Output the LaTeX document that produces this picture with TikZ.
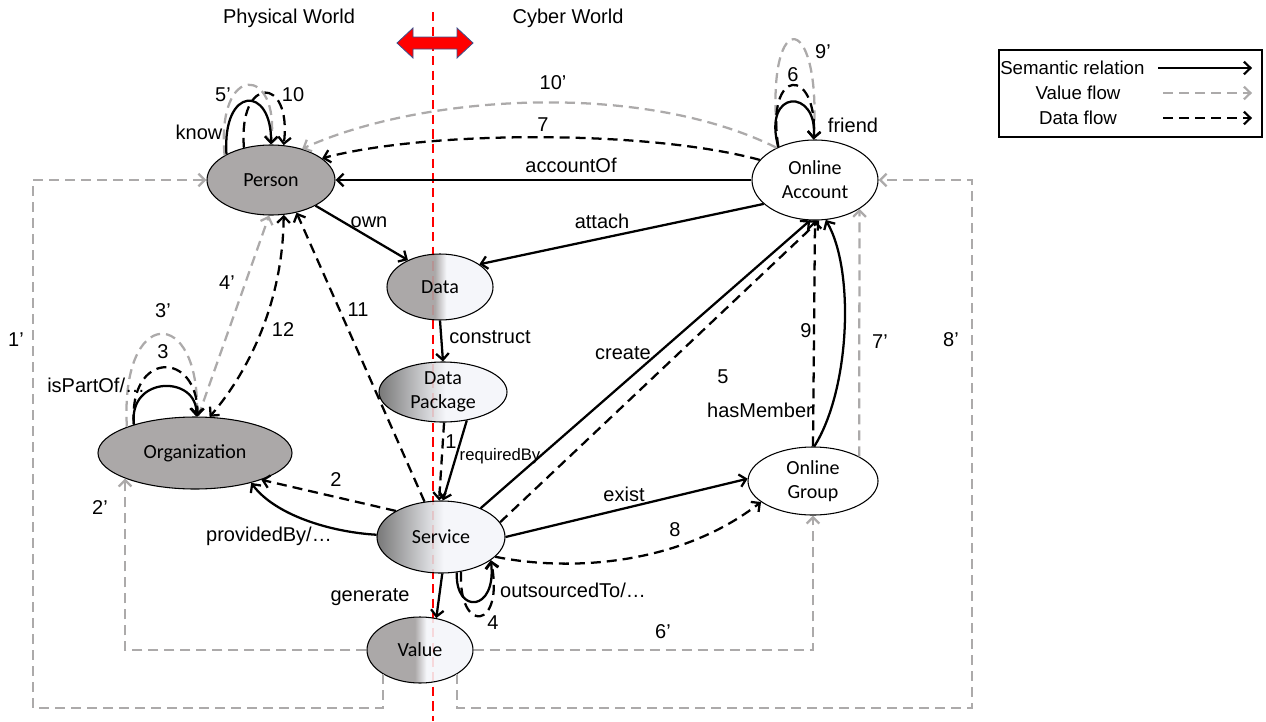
\documentclass[tikz,border=0pt]{standalone}
\usepackage{fontspec}
\setmainfont{Liberation Sans}
\newfontfamily\calfont{Carlito}
\usetikzlibrary{shapes.geometric,arrows.meta}

\definecolor{vgray}{RGB}{172,170,170}
\definecolor{ngray}{RGB}{171,168,168}
\definecolor{ndark}{RGB}{120,120,120}
\definecolor{nlight}{RGB}{245,246,250}
\definecolor{arrowedge}{RGB}{60,80,140}

\pgfdeclarehorizontalshading{sharpsh}{100bp}{color(0bp)=(ngray); color(25bp)=(ngray); color(47.5bp)=(ngray); color(53bp)=(nlight); color(100bp)=(nlight)}
\pgfdeclarehorizontalshading{softsh}{100bp}{color(0bp)=(ndark); color(25bp)=(ndark); color(51bp)=(nlight); color(100bp)=(nlight)}

\tikzset{
  ent/.style={ellipse, draw, line width=0.8pt, inner sep=0pt, align=center,
    font=\calfont\fontsize{15}{18}\selectfont},
  lbl/.style={inner sep=0pt, font=\fontsize{15}{17}\selectfont},
  rel/.style={draw, line width=1.7pt, ->},
  dflow/.style={draw, line width=1.7pt, dash pattern=on 7.5pt off 4.5pt, ->},
  vflow/.style={draw=vgray, line width=1.7pt, dash pattern=on 7.5pt off 4.5pt, ->},
  divider/.style={draw=red, line width=1.8pt, dash pattern=on 7pt off 4pt},
}

\begin{document}
\begin{tikzpicture}[x=0.75pt, y=-0.75pt, >={Straight Barb[length=4.8pt,width=9.5pt]}]
\useasboundingbox (0,0) rectangle (1266,721);

% boundary between the physical and the cyber world
\coordinate (divtop) at (433,12);
\coordinate (divbot) at (433,721);
\draw[divider] (divtop) -- (divbot);
\draw[fill=red, draw=arrowedge, line width=0.6pt]
  (397,43) -- (413,28) -- (413,37) -- (457,37) -- (457,28) -- (473,43)
  -- (457,58) -- (457,49) -- (413,49) -- (413,58) -- cycle;
\node[lbl] (phys) at (289,18) {Physical World};
\node[lbl] (cyber) at (568,18) {Cyber World};

% entities
\node[ent, fill=ngray, minimum width=96pt, minimum height=52.5pt] (P) at (271,180) {Person};
\node[ent, fill=white, minimum width=94.5pt, minimum height=60pt] (A) at (815,180) {Online\\Account};
\node[ent, shading=sharpsh, minimum width=79.5pt, minimum height=49.5pt] (D) at (440,287) {Data};
\node[ent, shading=softsh, minimum width=96pt, minimum height=45pt] (K) at (443,392) {Data\\Package};
\node[ent, shading=softsh, minimum width=96pt, minimum height=54pt] (S) at (441,537) {Service};
\node[ent, shading=sharpsh, minimum width=79.5pt, minimum height=49.5pt] (V) at (420,650) {Value};
\node[ent, fill=ngray, minimum width=145.5pt, minimum height=54pt] (O) at (195,453) {Organization};
\node[ent, fill=white, minimum width=97.5pt, minimum height=51pt] (G) at (813,481) {Online\\Group};

% the boundary line shows faintly through the entities
\draw[divider, opacity=0.12] (divtop) -- (divbot);

% corners of the outer value-flow routes
\coordinate (bl) at (33,708);
\coordinate (br) at (972,708);

% value flows
\draw[vflow] (V.-147) |- (bl) |- (P.west);
\draw[vflow] (V.west) -| (O.-160);
\draw[vflow] (O.159) .. controls (120,305) and (200,305) .. (O.87);
\draw[vflow] (O.85) -- (P.-93);
\draw[vflow] (P.152) .. controls (216,62) and (280,65) .. (P.90);
\draw[vflow] (V.east) -| (G.south);
\draw[vflow] (G.28) -- (A.-33);
\draw[vflow] (V.-33) |- (br) |- (A.east);
\draw[vflow] (A.138) .. controls (762,5) and (822,5) .. (A.92);
\draw[vflow] (A.140) .. controls (640,80) and (420,95) .. (P.45);

% semantic relations
\draw[rel] (A.west) -- (P.east);
\draw[rel] (P.-30) -- (D.140);
\draw[rel] (A.205) -- (D.30);
\draw[rel] (D.south) -- (K.north);
\draw[rel] (K.-50) -- (S.87);
\draw[rel] (S.178) .. controls (330,532) and (275,515) .. (O.-28);
\draw[rel] (S.36) -- (A.-97);
\draw[rel] (S.east) -- (G.178);
\draw[rel] (G.88) .. controls (850,390) and (855,270) .. (A.-75);
\draw[rel] (S.-88) -- (V.63);
\draw[rel] (P.150) .. controls (222,85) and (272,85) .. (P.90);
\draw[rel] (O.155) .. controls (128,375) and (198,375) .. (O.88);
\draw[rel] (A.138) .. controls (762,88) and (818,88) .. (A.92);
\draw[rel] (S.-66) .. controls (455,615) and (497,612) .. (S.-25);

% data flows
\draw[dflow] (A.160) .. controls (650,130) and (430,130) .. (P.23);
\draw[dflow] (P.130) .. controls (238,75) and (292,75) .. (P.70);
\draw[dflow] (K.-88) -- (S.93);
\draw[dflow] (S.150) -- (O.-22);
\draw[dflow] (O.155) .. controls (128,350) and (198,350) .. (O.86);
\draw[dflow] (S.-60) .. controls (458,635) and (505,630) .. (S.-25);
\draw[dflow] (S.14) -- (A.-84);
\draw[dflow] (A.138) .. controls (765,66) and (818,66) .. (A.92);
\draw[dflow] (S.-20) .. controls (570,572) and (680,565) .. (G.-158);
\draw[dflow] (G.90) -- (A.-90);
\draw[dflow] (S.115) -- (P.-52);
\draw[dflow, <->] (P.-70) .. controls (283,300) and (250,370) .. (O.68);

% relation labels
\node[lbl] (t-know) at (199,132) {know};
\node[lbl] (t-own) at (369,222) {own};
\node[lbl] (t-acc) at (571,165) {accountOf};
\node[lbl] (t-att) at (602,221) {attach};
\node[lbl] (t-con) at (490,337) {construct};
\node[lbl, font=\fontsize{12.5}{14}\selectfont] (t-req) at (500,456) {requiredBy};
\node[lbl] (t-cre) at (623,353) {create};
\node[lbl] (t-has) at (760,410) {hasMember};
\node[lbl] (t-exi) at (624,494) {exist};
\node[lbl] (t-fri) at (853,125) {friend};
\node[lbl, anchor=west] (t-part) at (47,385) {isPartOf/…};
\node[lbl] (t-prov) at (269,536) {providedBy/…};
\node[lbl] (t-gen) at (370,597) {generate};
\node[lbl] (t-out) at (573,590) {outsourcedTo/…};

% flow numbers
\node[lbl] (n1) at (451,442) {1};
\node[lbl] (n2) at (336,480) {2};
\node[lbl] (n3) at (163,352) {3};
\node[lbl] (n4) at (493,623) {4};
\node[lbl] (n5) at (723,377) {5};
\node[lbl] (n6) at (793,75) {6};
\node[lbl] (n7) at (543,125) {7};
\node[lbl] (n8) at (675,530) {8};
\node[lbl] (n9) at (806,331) {9};
\node[lbl] (n10) at (293,95) {10};
\node[lbl] (n11) at (358,310) {11};
\node[lbl] (n12) at (283,330) {12};
\node[lbl] (v1) at (16,340) {1’};
\node[lbl] (v2) at (100,508) {2’};
\node[lbl] (v3) at (163,311) {3’};
\node[lbl] (v4) at (227,283) {4’};
\node[lbl] (v5) at (223,95) {5’};
\node[lbl] (v6) at (663,632) {6’};
\node[lbl] (v7) at (880,342) {7’};
\node[lbl] (v8) at (951,340) {8’};
\node[lbl] (v9) at (823,52) {9’};
\node[lbl] (v10) at (553,83) {10’};

% legend
\node[draw, line width=1.5pt, inner sep=0pt, minimum width=197.25pt, minimum height=65.25pt] (key) at (1130.5,93.5) {};
\node[lbl, anchor=west, font=\fontsize{14}{16}\selectfont] (k-sem) at (1000,68) {Semantic relation};
\node[lbl, font=\fontsize{14}{16}\selectfont] (k-val) at (1078,93) {Value flow};
\node[lbl, font=\fontsize{14}{16}\selectfont] (k-dat) at (1078,118) {Data flow};
\coordinate (ks0) at (1158,68);  \coordinate (ks1) at (1252,68);
\coordinate (kv0) at (1163,93);  \coordinate (kv1) at (1252,93);
\coordinate (kd0) at (1163,118); \coordinate (kd1) at (1252,118);
\draw[rel] (ks0) -- (ks1);
\draw[vflow] (kv0) -- (kv1);
\draw[dflow] (kd0) -- (kd1);
\end{tikzpicture}
\end{document}
